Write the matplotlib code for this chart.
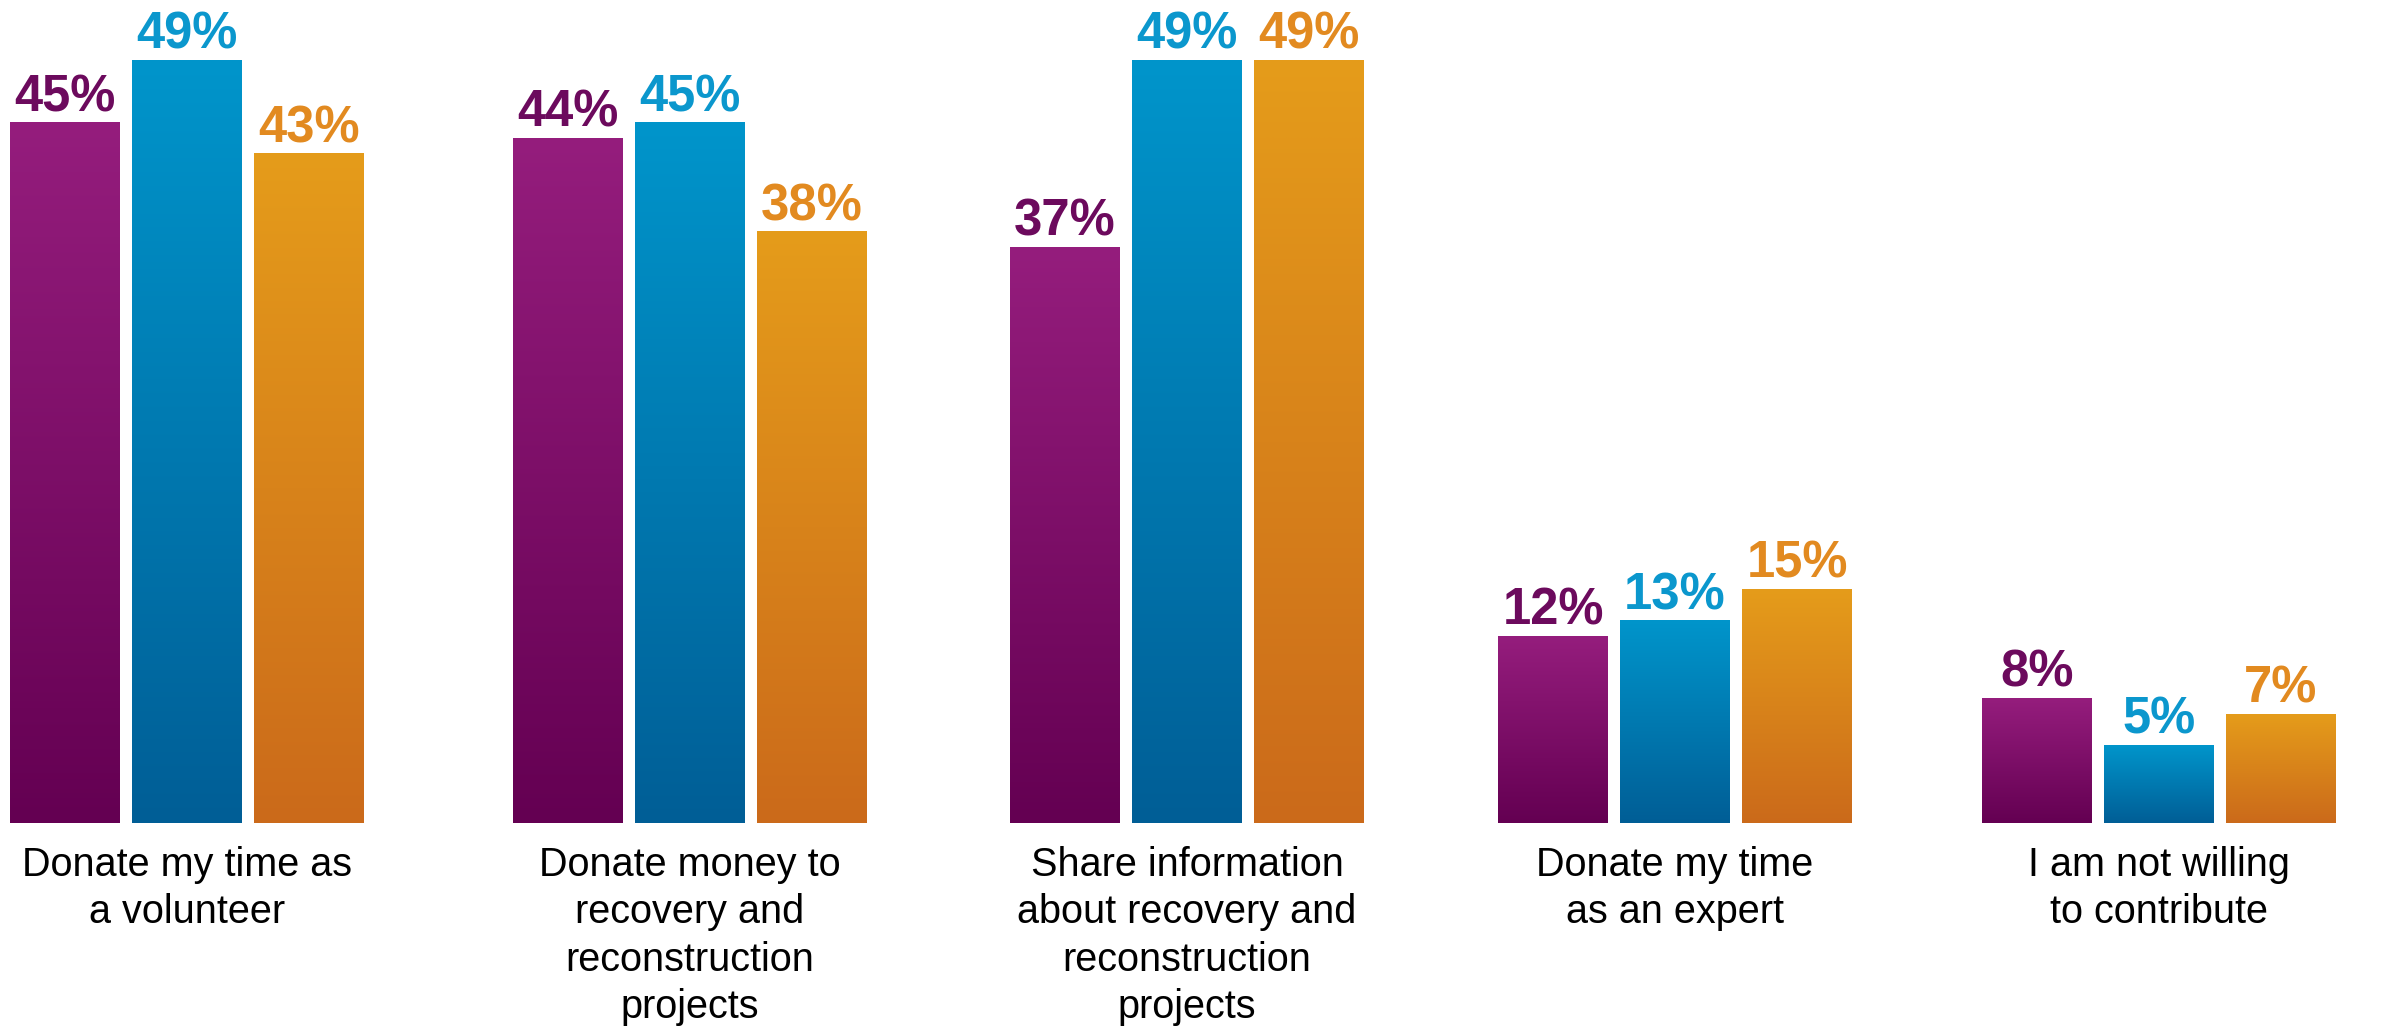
import numpy as np
import matplotlib.pyplot as plt
from matplotlib.colors import LinearSegmentedColormap

plt.rcParams['font.family'] = ['Liberation Sans', 'DejaVu Sans']

# Data
categories = ['Donate my time as\na volunteer',
              'Donate money to\nrecovery and\nreconstruction\nprojects',
              'Share information\nabout recovery and\nreconstruction\nprojects',
              'Donate my time\nas an expert',
              'I am not willing\nto contribute']
series_a = [45, 44, 37, 12, 8]
series_b = [49, 45, 49, 13, 5]
series_c = [43, 38, 49, 15, 7]

# gradient (top, bottom) and label colour per series
grad_colors = [('#951D7D', '#640052'), ('#0095CB', '#005E96'), ('#E59C1A', '#CB6A1B')]
label_colors = ['#6C0A5D', '#0B97CD', '#E28A20']

# layout (pixel x positions of the groups in the 2399 px wide figure)
group_left = [10, 513, 1010, 1498, 1982]
width = 110
step = 122

fig = plt.figure(figsize=(23.99, 10.30), dpi=100)
ax = fig.add_axes([0, 0, 1, 1])

grad = np.linspace(0, 1, 256).reshape(-1, 1)
for k, vals in enumerate([series_a, series_b, series_c]):
    pos = np.array(group_left) + k * step + width / 2
    bars = ax.bar(pos, vals, width, color='none', edgecolor='none')
    cmap = LinearSegmentedColormap.from_list('g%d' % k, [grad_colors[k][1], grad_colors[k][0]])
    for b, v in zip(bars, vals):
        x0 = b.get_x()
        ax.imshow(grad, cmap=cmap, origin='lower', aspect='auto',
                  extent=(x0, x0 + width, 0, v), zorder=2, interpolation='bicubic')
        ax.text(x0 + width / 2, v + 0.05, f'{v}%', ha='center', va='bottom',
                fontsize=36.5, fontweight='bold', color=label_colors[k])

for i, c in enumerate(categories):
    cx = group_left[i] + step + width / 2
    ax.text(cx, -1.45, c, ha='center', va='top', fontsize=28.5,
            color='black', linespacing=1.32)

ax.set_xlim(0, 2399)
ax.set_ylim(-13.3, 52.9)
ax.axis('off')

fig.savefig('out.png', dpi=100)
